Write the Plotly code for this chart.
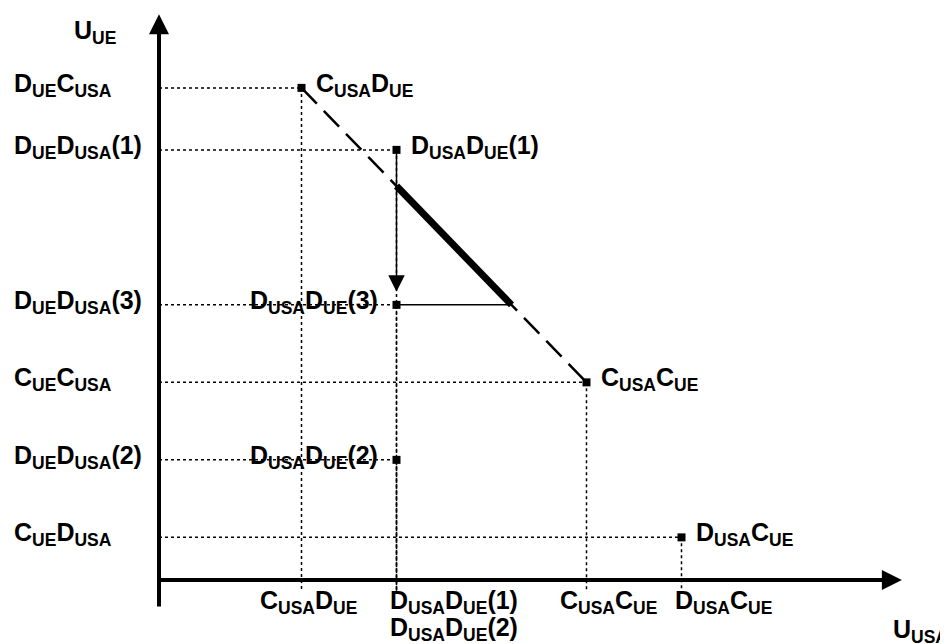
import plotly.graph_objects as go

# Outcome points (US payoff on x, EU payoff on y) - ordinal levels
point_names = ["C<sub>USA</sub>D<sub>UE</sub>", "D<sub>USA</sub>D<sub>UE</sub>(1)",
               "D<sub>USA</sub>D<sub>UE</sub>(3)", "C<sub>USA</sub>C<sub>UE</sub>",
               "D<sub>USA</sub>D<sub>UE</sub>(2)", "D<sub>USA</sub>C<sub>UE</sub>"]
point_x = [1.5, 2.5, 2.5, 4.5, 2.5, 5.5]
point_y = [6.35, 5.55, 3.55, 2.55, 1.55, 0.55]

# tick labels on the axes
y_tick_labels = ["D<sub>UE</sub>C<sub>USA</sub>", "D<sub>UE</sub>D<sub>USA</sub>(1)",
                 "D<sub>UE</sub>D<sub>USA</sub>(3)", "C<sub>UE</sub>C<sub>USA</sub>",
                 "D<sub>UE</sub>D<sub>USA</sub>(2)", "C<sub>UE</sub>D<sub>USA</sub>"]
x_tick_vals = [1.5, 2.5, 2.5, 4.5, 5.5]
x_tick_labels = ["C<sub>USA</sub>D<sub>UE</sub>", "D<sub>USA</sub>D<sub>UE</sub>(1)",
                 "D<sub>USA</sub>D<sub>UE</sub>(2)",
                 "C<sub>USA</sub>C<sub>UE</sub>", "D<sub>USA</sub>C<sub>UE</sub>"]

FONT = dict(family="Arial, Liberation Sans, sans-serif", size=25, color="black")
PX_X = 95.0   # pixels per x unit
PX_Y = 77.5   # pixels per y unit
X0, Y0 = 151, 572   # origin inside the figure (page adds 8px body margin)

fig = go.Figure()

# dotted guide lines from each point to both axes
gx, gy = [], []
for x, y in zip(point_x, point_y):
    gx += [0, x, None, x, x, None]
    gy += [y, y, None, y, -0.14, None]
fig.add_trace(go.Scatter(x=gx, y=gy, mode="lines",
                         line=dict(color="black", width=1.5, dash="dot"), hoverinfo="skip"))

# dashed frontier between C_USA D_UE and C_USA C_UE
fx = [point_x[0], point_x[3]]
fy = [point_y[0], point_y[3]]
fig.add_trace(go.Scatter(x=fx, y=fy, mode="lines",
                         line=dict(color="black", width=2.5, dash="22px,10px"), hoverinfo="skip"))

# thick part of the frontier between x of D_USA D_UE and y of D_USA D_UE(3)
slope = (fy[1] - fy[0]) / (fx[1] - fx[0])
x_start = point_x[1]
y_start = fy[0] + slope * (x_start - fx[0])
y_end = point_y[2]
x_end = fx[0] + (y_end - fy[0]) / slope
fig.add_trace(go.Scatter(x=[x_start, x_end], y=[y_start, y_end], mode="lines",
                         line=dict(color="black", width=7), hoverinfo="skip"))
# thin horizontal from D_USA D_UE(3) to the frontier
fig.add_trace(go.Scatter(x=[point_x[2], x_end], y=[y_end, y_end], mode="lines",
                         line=dict(color="black", width=1.5), hoverinfo="skip"))

# point markers
fig.add_trace(go.Scatter(x=point_x, y=point_y, mode="markers",
                         marker=dict(symbol="square", size=8, color="black"), hoverinfo="skip"))

# arrow from D_USA D_UE(1) down to D_USA D_UE(3)
fig.add_annotation(x=point_x[2], y=point_y[2], ax=point_x[1], ay=point_y[1],
                   xref="x", yref="y", axref="x", ayref="y", text="",
                   showarrow=True, arrowhead=2, arrowsize=2.2, arrowwidth=1.5,
                   arrowcolor="black", standoff=13)

# axes drawn as arrows
fig.add_annotation(x=7.82, y=0, ax=-0.03, ay=0, xref="x", yref="y", axref="x", ayref="y",
                   text="", showarrow=True, arrowhead=2, arrowsize=1, arrowwidth=4,
                   arrowcolor="black")
fig.add_annotation(x=0, y=7.30, ax=0, ay=-0.36, xref="x", yref="y", axref="x", ayref="y",
                   text="", showarrow=True, arrowhead=2, arrowsize=1, arrowwidth=4,
                   arrowcolor="black")

# axis titles
fig.add_annotation(x=-0.92, y=7.07, text="<b>U<sub>UE</sub></b>", showarrow=False,
                   xanchor="left", yanchor="middle", font=FONT)
fig.add_annotation(x=7.71, y=-0.66, text="<b>U<sub>USA</sub></b>", showarrow=False,
                   xanchor="left", yanchor="middle", font=FONT)

# y tick labels
for lab, y in zip(y_tick_labels, point_y):
    fig.add_annotation(x=-1.55, y=y, text="<b>" + lab + "</b>", showarrow=False,
                       xanchor="left", yanchor="middle", yshift=3, font=FONT)

# x tick labels (second label under D_USA D_UE is a second row)
x_label_shift = [-44, -9, -9, -29, -9]
x_label_row = [0, 0, 1, 0, 0]
for lab, x, sh, row in zip(x_tick_labels, x_tick_vals, x_label_shift, x_label_row):
    fig.add_annotation(x=x, y=0, text="<b>" + lab + "</b>", showarrow=False,
                       xanchor="left", yanchor="top", xshift=sh, yshift=-4 - 27 * row,
                       align="left", font=FONT)

# point labels
label_side = ["right", "right", "left", "right", "left", "right"]
for name, x, y, side in zip(point_names, point_x, point_y, label_side):
    if side == "right":
        fig.add_annotation(x=x, y=y, text="<b>" + name + "</b>", showarrow=False,
                           xanchor="left", yanchor="middle", xshift=12, yshift=3, font=FONT)
    else:
        fig.add_annotation(x=x, y=y, text="<b>" + name + "</b>", showarrow=False,
                           xanchor="right", yanchor="middle", xshift=-17, yshift=3, font=FONT)

fig.update_layout(
    width=948, height=644,
    margin=dict(l=0, r=0, t=0, b=0),
    paper_bgcolor="white", plot_bgcolor="white",
    showlegend=False,
    xaxis=dict(range=[-X0 / PX_X, (948 - X0) / PX_X], visible=False, fixedrange=True),
    yaxis=dict(range=[-(644 - Y0) / PX_Y, Y0 / PX_Y], visible=False, fixedrange=True),
)

fig.write_html("out.html")
